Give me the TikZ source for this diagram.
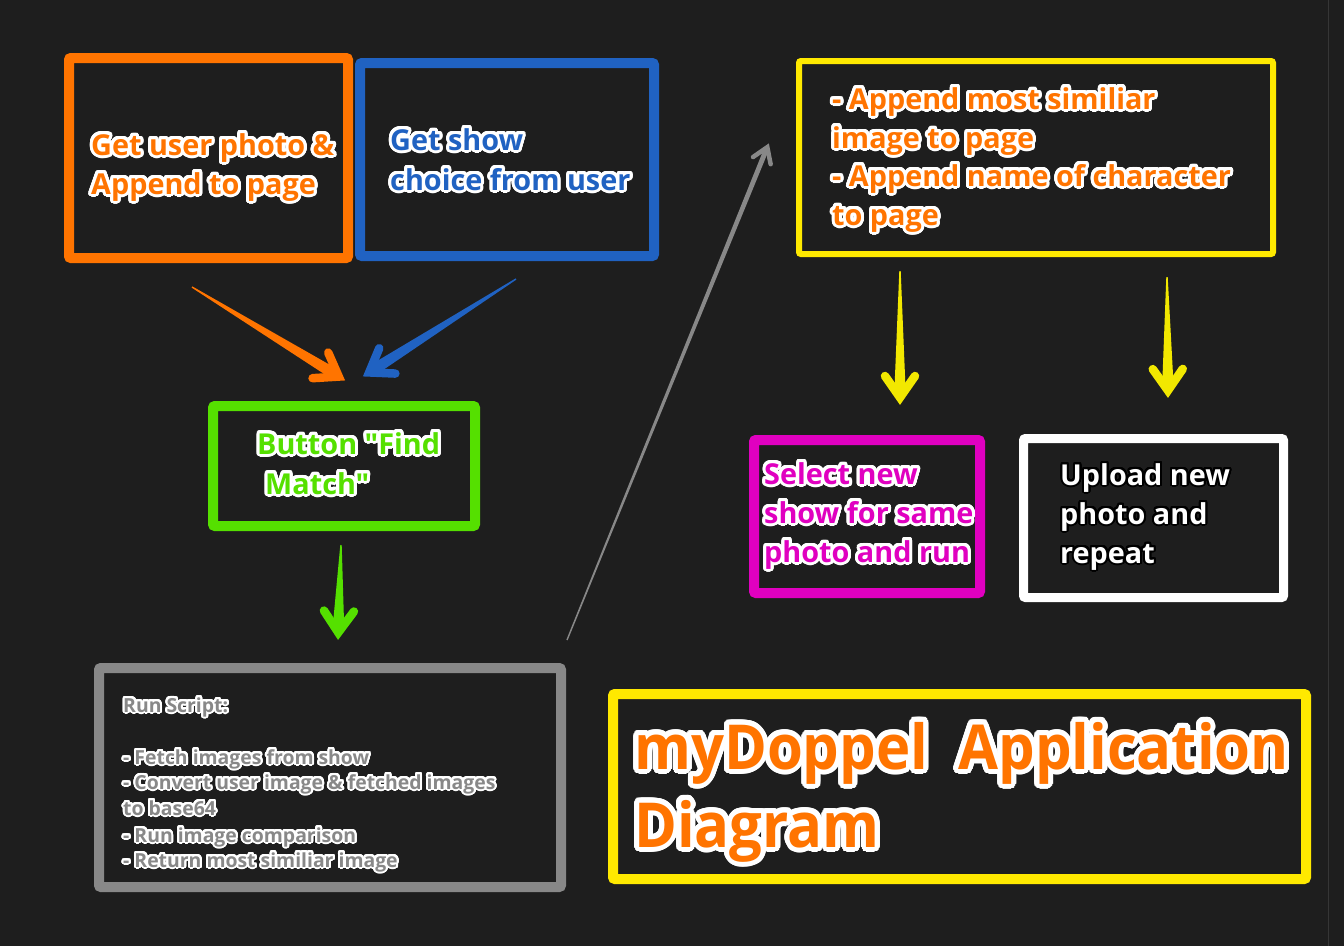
\documentclass[tikz,border=0pt]{standalone}
\usepackage{fontspec}
\newfontfamily\dfont{Open Sans}
\newfontfamily\tfont{Open Sans}[FakeStretch=0.935]
\usepackage[copies]{contour}
\usetikzlibrary{calc}
\definecolor{bg}{HTML}{1E1E1E}
\definecolor{cOr}{HTML}{FF7400}
\definecolor{cBl}{HTML}{2062C2}
\definecolor{cGr}{HTML}{55E000}
\definecolor{cGy}{HTML}{888888}
\definecolor{cYe}{HTML}{FFE900}
\definecolor{cYa}{HTML}{F2E800}
\definecolor{cMa}{HTML}{E000C0}
\definecolor{cEdge}{HTML}{363636}
\contournumber{32}
\newcommand\ctx[3]{\contourlength{#2}\contour{#1}{#3}}
\newcommand\tarrow[8]{%
  \coordinate (#1t) at #2;
  \coordinate (#1h) at #3;
  \coordinate (#1b) at ($(#1h)!#6!(#1t)$);
  \coordinate (#1l) at ($(#1b)!#7!90:(#1h)$);
  \coordinate (#1r) at ($(#1b)!#7!-90:(#1h)$);
  \coordinate (#1s) at ($(#1h)!#6*0.6!(#1t)$);
  \coordinate (#1p) at ($(#1h)!#8!(#1t)$);
  \fill[#4] ($(#1t)!0.7pt!90:(#1h)$) -- ($(#1s)!#5!90:(#1h)$) -- (#1p) --
            ($(#1s)!#5!-90:(#1h)$) -- ($(#1t)!0.7pt!-90:(#1h)$) -- cycle;
  \draw[#4, line width=#8, line cap=round, line join=miter] (#1l) -- (#1p) -- (#1r);
}
\tikzset{
  box/.style={draw=#1, line width=10pt, rounded corners=2pt, fill=bg,
              inner sep=0pt, outer sep=0pt, anchor=north west},
  txt/.style={anchor=base west, inner sep=0pt, text=#1,
              font=\dfont\bfseries\fontsize{28.8}{34}\selectfont},
  small/.style={anchor=base west, inner sep=0pt, text=#1,
              font=\dfont\bfseries\fontsize{19.4}{24}\selectfont},
  big/.style={anchor=base west, inner sep=0pt, text=#1,
              font=\tfont\bfseries\fontsize{62}{70}\selectfont},
}
\begin{document}
\begin{tikzpicture}[x=1pt,y=-1pt]
\useasboundingbox (0,0) rectangle (1344,946);
\fill[bg] (0,0) rectangle (1344,946);
\draw[cEdge, line width=1pt] (1328.5,0) -- (1328.5,946);

% boxes
\node[box=cOr, minimum width=279pt, minimum height=200pt] (ob) at (69,58) {};
\node[box=cBl, minimum width=294pt, minimum height=193pt] (bb) at (360,63) {};
\node[box=cGr, minimum width=262pt, minimum height=120pt] (gb) at (213,406) {};
\node[box=cGy, minimum width=462pt, minimum height=219pt] (sb) at (99,668) {};
\node[box=cYe, line width=6pt, minimum width=474pt, minimum height=193pt] (yb) at (799,61) {};
\node[box=cMa, minimum width=226pt, minimum height=153pt] (mb) at (754,440) {};
\node[box=white, line width=9pt, minimum width=260pt, minimum height=159pt] (wb) at (1023.5,438.5) {};
\node[box=cYe, minimum width=693pt, minimum height=185pt] (tb) at (613,694) {};

% texts
\node[txt=cOr] (o1) at (91,155) {\ctx{white}{3pt}{Get user photo \&}};
\node[txt=cOr] (o2) at (91,194) {\ctx{white}{3pt}{Append to page}};
\node[txt=cBl] (u1) at (390,150) {\ctx{white}{3pt}{Get show}};
\node[txt=cBl] (u2) at (390,190) {\ctx{white}{3pt}{choice from user}};
\node[txt=cGr] (g1) at (257,454) {\ctx{white}{3pt}{Button "Find}};
\node[txt=cGr] (g2) at (265,494) {\ctx{white}{3pt}{Match"}};
\node[txt=cOr] (y1) at (832,109) {\ctx{white}{3pt}{- Append most similiar}};
\node[txt=cOr] (y2) at (832,148) {\ctx{white}{3pt}{image to page}};
\node[txt=cOr] (y3) at (832,186) {\ctx{white}{3pt}{- Append name of character}};
\node[txt=cOr] (y4) at (832,225) {\ctx{white}{3pt}{to page}};
\node[txt=cMa] (m1) at (764,484) {\ctx{white}{3pt}{Select new}};
\node[txt=cMa] (m2) at (764,523) {\ctx{white}{3pt}{show for same}};
\node[txt=cMa] (m3) at (764,562) {\ctx{white}{3pt}{photo and run}};
\node[txt=white] (w1) at (1060,485) {\ctx{black}{2pt}{Upload new}};
\node[txt=white] (w2) at (1060,524) {\ctx{black}{2pt}{photo and}};
\node[txt=white] (w3) at (1060,563) {\ctx{black}{2pt}{repeat}};
\node[small=cGy] (s1) at (123,712) {\ctx{white}{2pt}{Run Script:}};
\node[small=cGy] (s2) at (123,764) {\ctx{white}{2pt}{- Fetch images from show}};
\node[small=cGy] (s3) at (123,789) {\ctx{white}{2pt}{- Convert user image \& fetched images}};
\node[small=cGy] (s4) at (123,815) {\ctx{white}{2pt}{to base64}};
\node[small=cGy] (s5) at (123,842) {\ctx{white}{2pt}{- Run image comparison}};
\node[small=cGy] (s6) at (123,867) {\ctx{white}{2pt}{- Return most similiar image}};
\node[big=cOr] (t1) at (634,769) {\ctx{white}{5pt}{myDoppel\ \ Application}};
\node[big=cOr] (t2) at (634,847) {\ctx{white}{5pt}{Diagram}};

% arrows
\tarrow{a1}{(192,287)}{(346,381)}{cOr}{5.5pt}{30pt}{15pt}{8.5pt}
\tarrow{a2}{(516,279)}{(362,377)}{cBl}{5.5pt}{30pt}{15pt}{8.5pt}
\tarrow{a3}{(341,545)}{(338,641)}{cGr}{5.5pt}{30pt}{15pt}{8.5pt}
\tarrow{a4}{(567,640)}{(769,143)}{cGy}{2.5pt}{19pt}{9.5pt}{4.5pt}
\tarrow{a5}{(900,271)}{(900,406)}{cYa}{5.5pt}{30pt}{15pt}{8.5pt}
\tarrow{a6}{(1167,277)}{(1168,399)}{cYa}{5.5pt}{30pt}{15pt}{8.5pt}
\end{tikzpicture}
\end{document}
